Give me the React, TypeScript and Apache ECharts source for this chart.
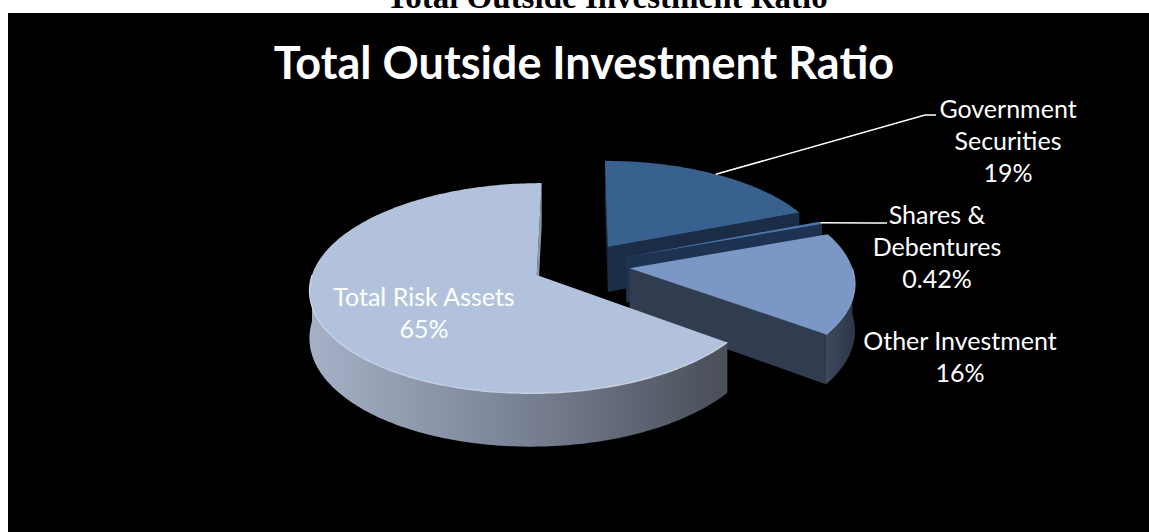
import React, { useEffect, useRef } from "react";
import * as echarts from "echarts";

// Outside investment mix, drawn as a tilted, exploded 3-D pie
const categories = ["Government Securities", "Shares & Debentures", "Other Investment", "Total Risk Assets"];
const labelNames = ["Government\nSecurities", "Shares &\nDebentures", "Other Investment", "Total Risk Assets"];
const values = [19, 0.42, 16, 65];

const TITLE = "Total Outside Investment Ratio";

// slice colours: top face, radial cut face, outer wall, rim highlight
const topColors = ["#38618f", "#4a79b2", "#7a97c5", "#b3c2dc"];
const faceColors = ["#1b2c46", "#1e3352", "#323c4f", "#8e98ab"];
const rimColors = ["#4a74a6", "#6a94c8", "#9ab2d8", "#dde6f3"];
const wallFill = (i: number) => {
  if (i === 3) {
    return new echarts.graphic.LinearGradient(0, 0, 1, 0, [
      { offset: 0, color: "#a6b1c7" },
      { offset: 0.5, color: "#7a8295" },
      { offset: 1, color: "#494e58" },
    ]);
  }
  if (i === 2) {
    return new echarts.graphic.LinearGradient(0, 0, 1, 0, [
      { offset: 0, color: "#3e4a61" },
      { offset: 1, color: "#2c3546" },
    ]);
  }
  return "#24354f";
};

// projection of the tilted disc
const CX = 581;
const CY = 265;
const RX = 222;
const RY = 101;
const PERSP = 0.124;
const EXPLODE = 0.22;
const THICK = 46;

// label block centres and leader-line bends
const labelPos: [number, number][] = [
  [1008, 140],
  [937, 246],
  [960, 356],
  [424, 312],
];
const labelLineHeight = [32, 32, 32, 31.5];
const leaderEnds: ([number, number][] | null)[] = [
  [
    [925, 115],
    [936, 115],
  ],
  [
    [873, 223],
    [887, 223],
  ],
  null,
  null,
];

const total = values.reduce((a, b) => a + b, 0);
const rad = (d: number) => (d * Math.PI) / 180;

function project(px: number, pz: number, h: number): [number, number] {
  const df = 1 / (1 + PERSP * pz);
  return [CX + RX * px * df, CY - RY * pz * df + h * df];
}

function signedArea(pts: [number, number][]) {
  let s = 0;
  for (let k = 0; k < pts.length; k++) {
    const p = pts[k];
    const q = pts[(k + 1) % pts.length];
    s += p[0] * q[1] - q[0] * p[1];
  }
  return s;
}

const renderSlice = (params: any, api: any) => {
  const i = params.dataIndex as number;
  const v = Number(api.value(0));
  let before = 0;
  for (let k = 0; k < i; k++) before += values[k];
  const a0 = (360 * before) / total;
  const a1 = a0 + (360 * v) / total;
  const midDeg = (a0 + a1) / 2;
  const ox = EXPLODE * Math.sin(rad(midDeg));
  const oz = EXPLODE * Math.cos(rad(midDeg));
  const rim = (deg: number, h: number) => project(ox + Math.sin(rad(deg)), oz + Math.cos(rad(deg)), h);
  const apex = (h: number) => project(ox, oz, h);
  const arc = (from: number, to: number, h: number) => {
    const n = Math.max(2, Math.ceil(Math.abs(to - from)));
    const pts: [number, number][] = [];
    for (let k = 0; k <= n; k++) pts.push(rim(from + ((to - from) * k) / n, h));
    return pts;
  };

  const children: any[] = [];

  // curved outer wall, front half only
  const w0 = Math.max(a0, 90);
  const w1 = Math.min(a1, 270);
  if (w1 > w0) {
    children.push({
      type: "polygon",
      shape: { points: arc(w0, w1, 0).concat(arc(w1, w0, THICK)) },
      style: { fill: wallFill(i) },
    });
  }

  // radial cut faces, when they face the viewer
  const startFace = [apex(0), rim(a0, 0), rim(a0, THICK), apex(THICK)];
  if (signedArea(startFace) < 0) {
    children.push({ type: "polygon", shape: { points: startFace }, style: { fill: faceColors[i] } });
  }
  const endFace = [rim(a1, 0), apex(0), apex(THICK), rim(a1, THICK)];
  if (signedArea(endFace) < 0) {
    children.push({ type: "polygon", shape: { points: endFace }, style: { fill: faceColors[i] } });
  }

  // top face
  children.push({
    type: "polygon",
    shape: { points: [apex(0), ...arc(a0, a1, 0)] },
    style: { fill: topColors[i] },
  });
  if (w1 > w0) {
    children.push({
      type: "polyline",
      shape: { points: arc(w0, w1, 0) },
      style: { stroke: rimColors[i], lineWidth: 1.2, fill: null, opacity: 0.8 },
    });
  }

  // leader line from the rim middle to the label
  const ends = leaderEnds[i];
  if (ends) {
    children.push({
      type: "polyline",
      z2: 10,
      shape: { points: [rim(midDeg, 0), ...ends] },
      style: { stroke: "#ffffff", lineWidth: 1.5, fill: null },
    });
  }

  children.push({
    type: "text",
    z2: 11,
    x: labelPos[i][0],
    y: labelPos[i][1],
    style: {
      text: `${labelNames[i]}\n${v}%`,
      fill: "#ffffff",
      fontFamily: "Lato",
      fontSize: 25,
      lineHeight: labelLineHeight[i],
      align: "center",
      verticalAlign: "middle",
    },
  });

  return { type: "group", children };
};

export default function App() {
  const ref = useRef<HTMLDivElement>(null);

  useEffect(() => {
    if (!ref.current) return;
    const chart = echarts.init(ref.current, undefined, { renderer: "svg" });
    chart.setOption({
      animation: false,
      backgroundColor: "#ffffff",
      graphic: [
        {
          type: "text",
          x: 607,
          y: -3,
          style: {
            text: TITLE,
            fill: "#000000",
            fontFamily: "Liberation Serif",
            fontWeight: "bold",
            fontSize: 33,
            align: "center",
            verticalAlign: "middle",
          },
        },
        {
          type: "rect",
          shape: { x: 8, y: 13, width: 1141, height: 519 },
          style: { fill: "#000000" },
        },
        {
          type: "text",
          x: 584,
          y: 62,
          style: {
            text: TITLE,
            fill: "#ffffff",
            fontFamily: "Lato",
            fontWeight: "bold",
            fontSize: 45,
            align: "center",
            verticalAlign: "middle",
          },
        },
      ],
      series: [
        {
          type: "custom",
          coordinateSystem: "none",
          renderItem: renderSlice,
          data: values.map((v, i) => ({ name: categories[i], value: v })),
        },
      ],
    });
    return () => chart.dispose();
  }, []);

  return (
    <div
      ref={ref}
      style={{ position: "fixed", left: 0, top: 0, width: 1149, height: 532 }}
    />
  );
}
